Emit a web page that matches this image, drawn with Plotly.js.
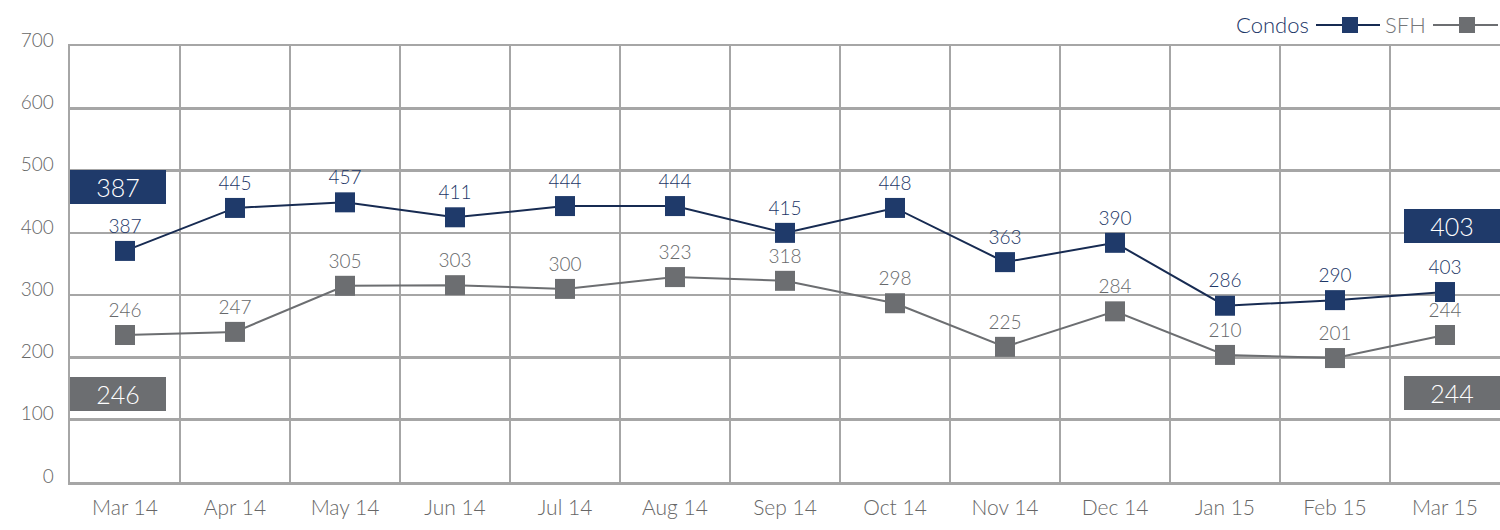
<!DOCTYPE html>
<html>
<head>
<meta charset="utf-8">
<script src="https://cdn.plot.ly/plotly-3.0.1.min.js"></script>
<style>html,body{margin:0;padding:0;background:#fff;}#chart{width:1500px;height:530px;}</style>
</head>
<body>
<div id="chart"></div>
<script>
// ---- data ----
const months = ["Mar 14","Apr 14","May 14","Jun 14","Jul 14","Aug 14","Sep 14","Oct 14","Nov 14","Dec 14","Jan 15","Feb 15","Mar 15"];
// printed values (labels)
const condosLabels = [387,445,457,411,444,444,415,448,363,390,286,290,403];
const sfhLabels    = [246,247,305,303,300,323,318,298,225,284,210,201,244];
// plotted marker positions
const condosPlotted = [371,440,449,425,443,443,400,440,353,384,283,292,305];
const sfhPlotted    = [236,241,315,316,310,329,323,287,217,274,204,199,236];
const yTicks = [0,100,200,300,400,500,600,700];

// ---- style ----
const NAVY = '#1c3667', NAVY_LINE = '#172b52', GRAY = '#66686b', GRID = '#a6a6a6';
const FONT = 'Lato, "Open Sans", sans-serif';
const W = 300;
const L = 70, R = 1500, T = 46, B = 482;
const px = x => (x - L) / (R - L);
const py = y => (B - y) / (B - T);

const traces = [
  {x: months, y: condosPlotted, name: 'Condos', type: 'scatter', mode: 'lines+markers+text',
   text: condosLabels.map(String), textposition: 'top center',
   textfont: {family: FONT, size: 19, color: NAVY, weight: W},
   line: {color: NAVY_LINE, width: 2}, marker: {symbol: 'square', size: 20, color: '#1f3a6a'},
   cliponaxis: false, hoverinfo: 'x+text'},
  {x: months, y: sfhPlotted, name: 'SFH', type: 'scatter', mode: 'lines+markers+text',
   text: sfhLabels.map(String), textposition: 'top center',
   textfont: {family: FONT, size: 19, color: GRAY, weight: W},
   line: {color: '#6c6e71', width: 2}, marker: {symbol: 'square', size: 20, color: '#6c6e71'},
   cliponaxis: false, hoverinfo: 'x+text'}
];

function box(text, color, xa, xanchor, yc) {
  return {text: String(text), xref: 'paper', yref: 'paper', x: xa, xanchor: xanchor,
    y: py(yc), yanchor: 'middle', showarrow: false, width: 96, height: 34,
    bgcolor: color, borderpad: 0, borderwidth: 0,
    font: {family: FONT, size: 25, color: '#ffffff', weight: W}};
}

const annotations = [
  box(condosLabels[0], '#1f3a6a', 0, 'left', 187),
  box(sfhLabels[0], '#6c6e71', 0, 'left', 394),
  box(condosLabels[condosLabels.length-1], '#1f3a6a', 1, 'right', 226),
  box(sfhLabels[sfhLabels.length-1], '#6c6e71', 1, 'right', 393),
  {text: 'Condos', xref: 'paper', yref: 'paper', x: px(1311), xanchor: 'right', y: py(25), yanchor: 'middle',
   showarrow: false, font: {family: FONT, size: 22, color: NAVY, weight: W}},
  {text: 'SFH', xref: 'paper', yref: 'paper', x: px(1428), xanchor: 'right', y: py(25), yanchor: 'middle',
   showarrow: false, font: {family: FONT, size: 22, color: '#75777a', weight: W}}
];

function legendSym(x0, x1, cx, color, lineColor) {
  return [
    {type: 'line', xref: 'paper', yref: 'paper', x0: px(x0), x1: px(x1), y0: py(25), y1: py(25),
     line: {color: lineColor, width: 2}},
    {type: 'rect', xref: 'paper', yref: 'paper', x0: px(cx-8), x1: px(cx+8), y0: py(33), y1: py(17),
     fillcolor: color, line: {width: 0}}
  ];
}
const shapes = [].concat(legendSym(1316, 1380, 1350, '#1f3a6a', NAVY_LINE), legendSym(1433, 1498, 1467, '#6c6e71', '#6c6e71'));

const layout = {
  width: 1500, height: 530, autosize: false,
  margin: {l: L, r: 1500 - R, t: T, b: 530 - B},
  paper_bgcolor: '#ffffff', plot_bgcolor: '#ffffff',
  showlegend: false,
  font: {family: FONT, color: '#707070', weight: W},
  xaxis: {type: 'category', range: [-0.5, 12.5], tickson: 'boundaries', showgrid: true,
    gridcolor: GRID, gridwidth: 2.5, showline: true, linecolor: GRID, linewidth: 2.5, mirror: true,
    ticks: '', ticklen: 0, tickfont: {family: FONT, size: 21, color: '#666666', weight: W}, ticklabelstandoff: 5,
    zeroline: false, fixedrange: true},
  yaxis: {range: [0, 700], tickvals: yTicks, ticktext: yTicks.map(String), showgrid: true,
    gridcolor: GRID, gridwidth: 2.5, showline: true, linecolor: GRID, linewidth: 2.5, mirror: true,
    ticks: '', tickfont: {family: FONT, size: 19, color: '#666666', weight: W}, ticklabelstandoff: 10,
    ticklabelshift: -6, zeroline: false, fixedrange: true},
  annotations: annotations,
  shapes: shapes
};

Plotly.newPlot('chart', traces, layout, {displayModeBar: false, staticPlot: true});
</script>
</body>
</html>
